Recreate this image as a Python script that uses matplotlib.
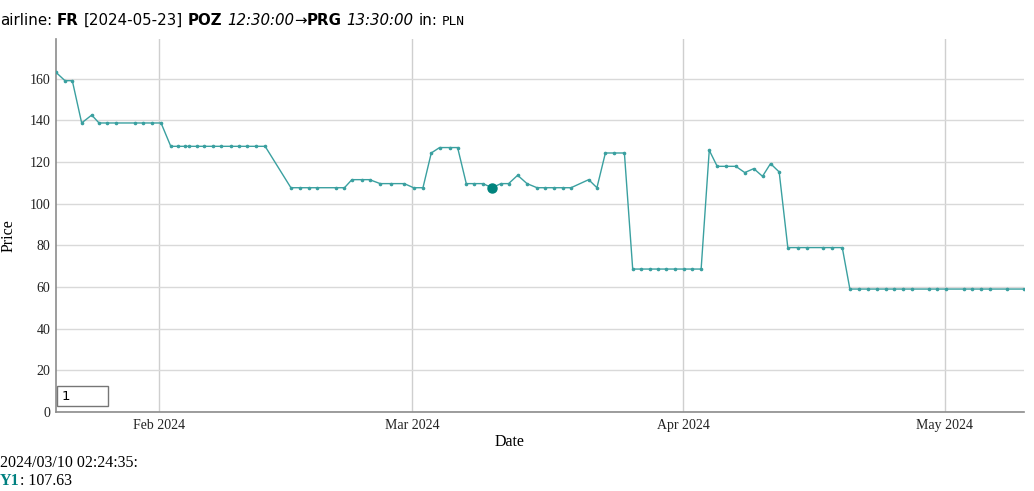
import matplotlib
matplotlib.use("Agg")
import matplotlib.pyplot as plt
import matplotlib.dates as mdates
from matplotlib.patches import Rectangle
import pandas as pd

# price history
dates = [
    "2024-01-20 03:50", "2024-01-21 04:30", "2024-01-22 00:40", "2024-01-23 02:25",
    "2024-01-24 06:00", "2024-01-25 02:10", "2024-01-26 01:00", "2024-01-27 01:40",
    "2024-01-29 06:00", "2024-01-30 04:00", "2024-01-31 03:00", "2024-02-01 04:40",
    "2024-02-02 07:25", "2024-02-03 04:20", "2024-02-03 23:30", "2024-02-04 10:30",
    "2024-02-05 07:00", "2024-02-06 03:00", "2024-02-07 03:00", "2024-02-08 02:40",
    "2024-02-09 05:20", "2024-02-10 04:05", "2024-02-11 02:10", "2024-02-12 02:10",
    "2024-02-13 02:50", "2024-02-16 01:40", "2024-02-17 03:10", "2024-02-18 04:50",
    "2024-02-19 02:50", "2024-02-21 06:15", "2024-02-22 05:00", "2024-02-23 01:25",
    "2024-02-24 05:00", "2024-02-25 02:00", "2024-02-26 07:15", "2024-02-27 12:40",
    "2024-02-29 01:25", "2024-03-01 03:00", "2024-03-02 04:50", "2024-03-03 03:40",
    "2024-03-04 02:25", "2024-03-05 06:00", "2024-03-06 04:05", "2024-03-07 03:55",
    "2024-03-08 01:55", "2024-03-09 01:55", "2024-03-10 02:24:35", "2024-03-11 03:20",
    "2024-03-12 00:15", "2024-03-13 01:10", "2024-03-14 02:55", "2024-03-15 06:25",
    "2024-03-16 05:20", "2024-03-17 06:10", "2024-03-18 06:00", "2024-03-19 04:00",
    "2024-03-21 04:30", "2024-03-22 03:10", "2024-03-23 02:25", "2024-03-24 01:10",
    "2024-03-25 06:40", "2024-03-26 05:30", "2024-03-27 04:35", "2024-03-28 04:20",
    "2024-03-29 03:25", "2024-03-30 02:10", "2024-03-31 01:10", "2024-04-01 02:00",
    "2024-04-02 01:00", "2024-04-03 01:40", "2024-04-04 00:00", "2024-04-04 21:50",
    "2024-04-05 23:20", "2024-04-07 01:00", "2024-04-08 01:40", "2024-04-09 02:25",
    "2024-04-10 02:25", "2024-04-11 00:30", "2024-04-12 00:15", "2024-04-13 00:00",
    "2024-04-14 03:35", "2024-04-15 03:35", "2024-04-17 01:25", "2024-04-18 02:10",
    "2024-04-19 05:45", "2024-04-20 02:40", "2024-04-21 03:20", "2024-04-22 04:05",
    "2024-04-23 04:05", "2024-04-24 04:50", "2024-04-25 03:35", "2024-04-26 04:35",
    "2024-04-27 04:20", "2024-04-29 04:05", "2024-04-30 03:05", "2024-05-01 03:50",
    "2024-05-03 04:20", "2024-05-04 03:20", "2024-05-05 02:10", "2024-05-06 03:05",
    "2024-05-08 03:50", "2024-05-10 01:25",
]
prices = [
    163.0, 159.0, 159.0, 138.7, 142.5, 138.7, 138.7, 138.7, 138.7, 138.7, 138.7, 138.7,
    127.5, 127.5, 127.5, 127.5, 127.5, 127.5, 127.5, 127.5, 127.5, 127.5, 127.5, 127.5,
    127.5, 107.63, 107.63, 107.63, 107.63, 107.63, 107.63, 111.5, 111.5, 111.5,
    109.6, 109.6, 109.6, 107.63, 107.63, 124.3, 126.9, 126.9, 126.9, 109.6, 109.6, 109.6,
    107.63, 109.6, 109.6, 113.6, 109.6, 107.63, 107.63, 107.63, 107.63, 107.63,
    111.5, 107.63, 124.3, 124.3, 124.3, 68.6, 68.6, 68.6, 68.6, 68.6, 68.6, 68.6, 68.6,
    68.6, 125.6, 117.9, 117.9, 117.9, 114.9, 116.8, 113.1, 119.2, 115.2,
    78.9, 78.9, 78.9, 78.9, 78.9, 78.9, 59.0, 59.0, 59.0, 59.0, 59.0, 59.0, 59.0, 59.0,
    59.0, 59.0, 59.0, 59.0, 59.0, 59.0, 59.0, 59.0, 59.0,
]
highlight_date = "2024-03-10 02:24:35"
highlight_price = 107.63
month_ticks = ["2024-02-01", "2024-03-01", "2024-04-01", "2024-05-01"]
y_ticks = [0, 20, 40, 60, 80, 100, 120, 140, 160]

W, H = 1034, 491
serif = ["Liberation Serif", "DejaVu Serif"]
line_col = "#3aa0a0"

x = pd.to_datetime(dates, format="ISO8601")
fig = plt.figure(figsize=(W / 100, H / 100), dpi=100)
ax = fig.add_axes([56 / W, (H - 412) / H, (1024 - 56) / W, (412 - 39) / H])

ax.plot(x, prices, color=line_col, lw=1.0, marker="o", ms=1.6, zorder=3)
ax.plot(pd.to_datetime([highlight_date]), [highlight_price], "o",
        color="#00837d", ms=6.5, zorder=4)

ax.set_xlim(x[0], x[-1])
ax.set_ylim(0, 179)
ax.set_yticks(y_ticks)
ax.set_xticks(pd.to_datetime(month_ticks))
ax.xaxis.set_major_formatter(mdates.DateFormatter("%b %Y"))
ax.grid(True, axis="y", color="#d9d9d9", lw=1.0)
ax.grid(True, axis="x", color="#cfcfcf", lw=1.0)
ax.set_axisbelow(True)
for s in ["top", "right"]:
    ax.spines[s].set_visible(False)
for s in ["left", "bottom"]:
    ax.spines[s].set_color("#8c8c8c")
    ax.spines[s].set_linewidth(1.2)
ax.tick_params(length=0, labelsize=10, colors="#222222")
ax.tick_params(axis="y", pad=4)
ax.tick_params(axis="x", pad=5)
for lab in ax.get_xticklabels() + ax.get_yticklabels():
    lab.set_family(serif)

fig.text(510 / W, 1 - 442 / H, "Date", family=serif, fontsize=11.5,
         ha="center", va="center")
fig.text(9 / W, 1 - 236 / H, "Price", family=serif, fontsize=11.5,
         ha="center", va="center", rotation=90)

# title built from pieces with different styles
parts = [
    ("airline:", {}, 0),
    ("FR", {"weight": "bold"}, 1),
    ("[2024-05-23]", {}, 1),
    ("POZ", {"weight": "bold"}, 1),
    ("12:30:00", {"style": "italic"}, 1),
    ("\u2192", {}, 0),
    ("PRG", {"weight": "bold"}, 0),
    ("13:30:00", {"style": "italic"}, 1),
    ("in:", {}, 1),
    ("PLN", {"family": "DejaVu Sans Mono", "fontsize": 9.2}, 1),
]
r = fig.canvas.get_renderer()
px = 0.0
space = 4.8
for txt, kw, gap in parts:
    px += gap * space
    opts = {"family": "DejaVu Sans", "fontsize": 10.8}
    opts.update(kw)
    t = fig.text(px / W, 1 - 25 / H, txt, va="baseline", ha="left", **opts)
    px += t.get_window_extent(r).width

# legend readout below the chart
fig.text(0, 1 - 467 / H, "2024/03/10 02:24:35:", family=serif, fontsize=11.5,
         va="baseline")
t = fig.text(0, 1 - 485 / H, "Y1", family=serif, fontsize=11.5, weight="bold",
             color="#008080", va="baseline")
wy = t.get_window_extent(r).width
fig.text(wy / W, 1 - 485 / H, ": 107.63", family=serif, fontsize=11.5,
         va="baseline")

# range selector input box
fig.patches.append(Rectangle((57 / W, 1 - 406 / H), 51 / W, 20 / H,
                             transform=fig.transFigure, facecolor="white",
                             edgecolor="#767676", lw=1.0, zorder=5))
fig.text(62 / W, 1 - 396 / H, "1", family="DejaVu Sans", fontsize=9.5,
         va="center", zorder=6)

fig.savefig("out.png", dpi=100)
